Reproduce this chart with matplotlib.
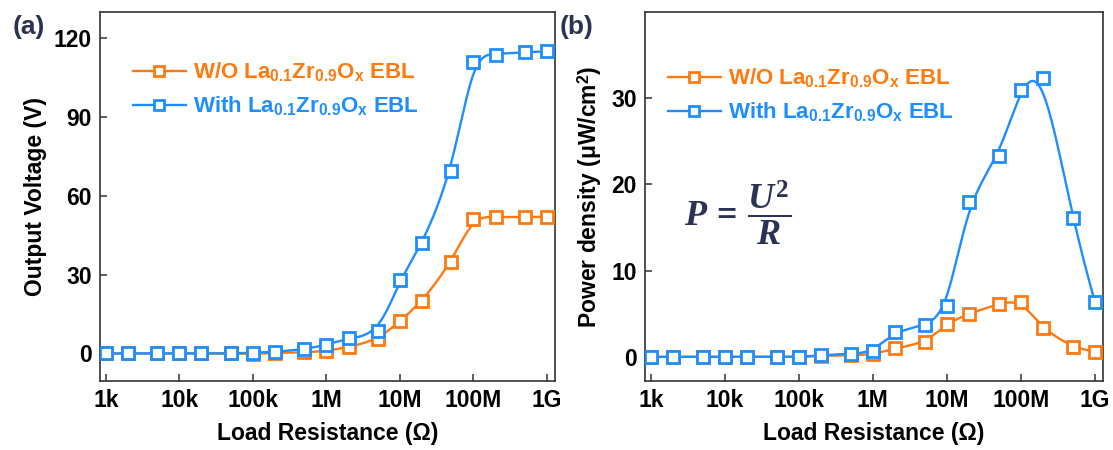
import matplotlib
matplotlib.use('Agg')
import matplotlib.pyplot as plt
import numpy as np

plt.rcParams['font.family'] = ['Liberation Sans', 'DejaVu Sans']
plt.rcParams['font.weight'] = 'bold'
plt.rcParams['mathtext.fontset'] = 'custom'
plt.rcParams['mathtext.sf'] = 'Liberation Sans:bold'
plt.rcParams['mathtext.it'] = 'Liberation Serif:italic:bold'
plt.rcParams['mathtext.rm'] = 'Liberation Serif:bold'

# load resistance (ohm)
resistance = [1e3, 2e3, 5e3, 1e4, 2e4, 5e4, 1e5, 2e5, 5e5, 1e6, 2e6, 5e6,
              1e7, 2e7, 5e7, 1e8, 2e8, 5e8, 1e9]
# output voltage (V)
volt_wo = [0, 0, 0, 0, 0, 0, -0.2, 0.2, 0.4, 1.0, 2.5, 5.5,
           12.5, 20.0, 35.0, 51.2, 51.8, 52.0, 52.0]
volt_with = [0, 0, 0, 0, 0, 0, 0.3, 0.6, 1.7, 3.3, 5.8, 8.4,
             28.0, 42.0, 69.6, 111.0, 113.8, 114.7, 115.0]
# power density (uW/cm2)
pow_wo = [0, 0, 0, 0, 0, 0, 0, 0.1, 0.2, 0.3, 1.0, 1.7,
          3.8, 5.0, 6.1, 6.4, 3.3, 1.2, 0.6]
pow_with = [0, 0, 0, 0, 0, 0, 0, 0.2, 0.35, 0.7, 2.9, 3.7,
            5.9, 18.0, 23.3, 31.0, 32.3, 16.1, 6.4]

xticks = [1e3, 1e4, 1e5, 1e6, 1e7, 1e8, 1e9]
xticklabels = ['1k', '10k', '100k', '1M', '10M', '100M', '1G']

orange = '#FF7A0E'
blue = '#1E8EFF'
navy = '#2B3352'

lab_wo = r'W/O La$_{\mathsf{0.1}}$Zr$_{\mathsf{0.9}}$O$_{\mathsf{x}}$ EBL'
lab_with = r'With La$_{\mathsf{0.1}}$Zr$_{\mathsf{0.9}}$O$_{\mathsf{x}}$ EBL'


def smooth_curve(px, py, n=40):
    # cubic B-spline, control points pulled part way toward the data
    pts = np.column_stack([px, py]).astype(float)
    avg = pts.copy()
    avg[1:-1] = (pts[:-2] + 4 * pts[1:-1] + pts[2:]) / 6
    ctrl = pts + 0.45 * (pts - avg)
    ctrl = np.vstack([ctrl[0], ctrl[0], ctrl, ctrl[-1], ctrl[-1]])
    t = np.linspace(0, 1, n)[:, None]
    b0 = (1 - t)**3 / 6
    b1 = (3 * t**3 - 6 * t**2 + 4) / 6
    b2 = (-3 * t**3 + 3 * t**2 + 3 * t + 1) / 6
    b3 = t**3 / 6
    segs = []
    for i in range(len(ctrl) - 3):
        segs.append(b0 * ctrl[i] + b1 * ctrl[i + 1] + b2 * ctrl[i + 2] +
                    b3 * ctrl[i + 3])
    out = np.vstack(segs)
    return out[:, 0], out[:, 1]


def draw_series(ax, y, color, label):
    sx, sy = smooth_curve(np.log10(resistance), y)
    ax.plot(10**sx, sy, color=color, lw=1.7, zorder=2)
    ax.plot(resistance, y, ls='none', marker='s', ms=8.5, mfc='white',
            mec=color, mew=2.0, zorder=3)
    # proxy for legend: line + marker
    ax.plot([], [], color=color, lw=1.7, marker='s', ms=7, mfc='white',
            mec=color, mew=2.0, label=label)


def style_axes(ax, ylabel, anchor):
    ax.set_xscale('log')
    ax.set_xlim(10**2.92, 10**9.11)
    ax.set_xticks(xticks)
    ax.set_xticklabels(xticklabels)
    ax.minorticks_off()
    ax.tick_params(direction='in', labelsize=16.5, length=5, width=1.1,
                   color='#333333', pad=6)
    for s in ax.spines.values():
        s.set_linewidth(1.2)
        s.set_color('#333333')
    ax.set_xlabel('Load Resistance (Ω)', fontsize=16.5, fontweight='bold',
                  labelpad=7)
    ax.set_ylabel(ylabel, fontsize=16.5, fontweight='bold', labelpad=5)
    leg = ax.legend(loc='upper left', bbox_to_anchor=anchor,
                    frameon=False, fontsize=16, handlelength=2.4,
                    handletextpad=0.3, labelspacing=0.5, numpoints=1,
                    borderaxespad=0)
    for txt, c in zip(leg.get_texts(), [orange, blue]):
        txt.set_color(c)


fig = plt.figure(figsize=(11.13, 4.5), dpi=100)
ax1 = fig.add_axes([0.0898, 0.1533, 0.4089, 0.82])
ax2 = fig.add_axes([0.5795, 0.1533, 0.4115, 0.82])

draw_series(ax1, volt_wo, orange, lab_wo)
draw_series(ax1, volt_with, blue, lab_with)
ax1.set_ylim(-10.5, 130)
ax1.set_yticks([0, 30, 60, 90, 120])
style_axes(ax1, 'Output Voltage (V)', (0.052, 0.893))

draw_series(ax2, pow_wo, orange, lab_wo)
draw_series(ax2, pow_with, blue, lab_with)
ax2.set_ylim(-2.8, 40)
ax2.set_yticks([0, 10, 20, 30])
style_axes(ax2, 'Power density (μW/cm$^{\\mathsf{2}}$)', (0.03, 0.877))

ax2.text(0.203, 0.455, r'$P\,=\,\dfrac{U^2}{R}$', transform=ax2.transAxes,
         fontsize=26, color=navy, ha='center', va='center')

fig.text(0.011, 0.925, '(a)', fontsize=19, fontweight='bold', color=navy)
fig.text(0.503, 0.925, '(b)', fontsize=19, fontweight='bold', color=navy)

fig.savefig('out.png', dpi=100)
